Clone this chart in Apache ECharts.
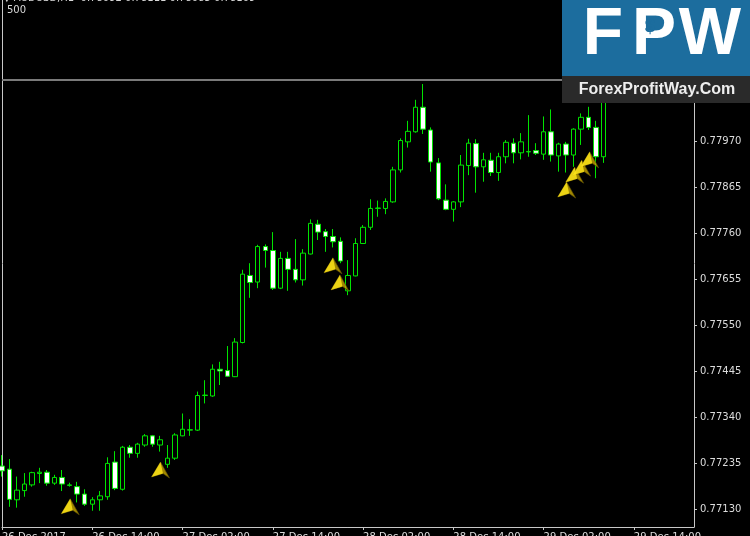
<!DOCTYPE html>
<html>
<head>
<meta charset="utf-8">
<title>AUDUSD H1</title>
<script src="https://cdn.jsdelivr.net/npm/echarts@6/dist/echarts.min.js"></script>
<style>
  html, body { margin: 0; padding: 0; background: #000; }
  #main { width: 750px; height: 536px; }
</style>
</head>
<body>
<div id="main"></div>
<script>
// AUDUSD H1 bars, oldest first
const opens = [
  0.77228, 0.77221, 0.77151, 0.77172, 0.77185, 0.77211, 0.77214, 0.77189, 0.77202, 0.77185,
  0.77181, 0.77164, 0.77141, 0.77151, 0.77158, 0.77237, 0.77175, 0.77271, 0.77257, 0.77276,
  0.77297, 0.77276, 0.77232, 0.77246, 0.77297, 0.77310, 0.77310, 0.77389, 0.77388, 0.77449,
  0.77446, 0.77432, 0.77510, 0.77663, 0.77648, 0.77729, 0.77720, 0.77634, 0.77702, 0.77677,
  0.77653, 0.77712, 0.77780, 0.77763, 0.77752, 0.77741, 0.77628, 0.77662, 0.77736, 0.77773,
  0.77816, 0.77816, 0.77831, 0.77904, 0.77968, 0.77991, 0.78047, 0.77995, 0.77920, 0.77835,
  0.77814, 0.77831, 0.77914, 0.77964, 0.77911, 0.77926, 0.77898, 0.77934, 0.77965, 0.77943,
  0.77945, 0.77948, 0.77940, 0.77991, 0.77936, 0.77963, 0.77938, 0.77997, 0.78024, 0.78001,
  0.77934, 0.78092
];
const highs = [
  0.77253, 0.77244, 0.77204, 0.77212, 0.77215, 0.77224, 0.77219, 0.77208, 0.77219, 0.77190,
  0.77192, 0.77175, 0.77157, 0.77171, 0.77248, 0.77262, 0.77274, 0.77276, 0.77281, 0.77301,
  0.77299, 0.77297, 0.77276, 0.77303, 0.77348, 0.77335, 0.77398, 0.77424, 0.77460, 0.77466,
  0.77502, 0.77520, 0.77676, 0.77691, 0.77733, 0.77734, 0.77762, 0.77717, 0.77717, 0.77746,
  0.77723, 0.77791, 0.77790, 0.77769, 0.77769, 0.77750, 0.77698, 0.77748, 0.77778, 0.77837,
  0.77834, 0.77839, 0.77911, 0.77976, 0.78016, 0.78064, 0.78100, 0.78001, 0.77931, 0.77871,
  0.77833, 0.77938, 0.77975, 0.77974, 0.77943, 0.77943, 0.77943, 0.77972, 0.77976, 0.77988,
  0.78029, 0.77965, 0.78026, 0.78042, 0.77966, 0.77968, 0.77999, 0.78033, 0.78048, 0.78016,
  0.78096, 0.78111
];
const lows = [
  0.77204, 0.77135, 0.77133, 0.77158, 0.77181, 0.77189, 0.77183, 0.77185, 0.77171, 0.77181,
  0.77145, 0.77137, 0.77126, 0.77126, 0.77151, 0.77173, 0.77172, 0.77247, 0.77247, 0.77272,
  0.77272, 0.77261, 0.77224, 0.77242, 0.77296, 0.77297, 0.77308, 0.77371, 0.77386, 0.77413,
  0.77432, 0.77431, 0.77508, 0.77612, 0.77634, 0.77681, 0.77630, 0.77632, 0.77628, 0.77647,
  0.77640, 0.77711, 0.77744, 0.77717, 0.77727, 0.77691, 0.77618, 0.77661, 0.77735, 0.77767,
  0.77797, 0.77803, 0.77829, 0.77898, 0.77955, 0.77989, 0.77986, 0.77900, 0.77835, 0.77812,
  0.77786, 0.77819, 0.77892, 0.77852, 0.77877, 0.77890, 0.77879, 0.77919, 0.77919, 0.77928,
  0.77934, 0.77938, 0.77927, 0.77923, 0.77900, 0.77898, 0.77911, 0.77961, 0.77995, 0.77885,
  0.77920, 0.78085
];
const closes = [
  0.77217, 0.77152, 0.77173, 0.77187, 0.77213, 0.77214, 0.77189, 0.77202, 0.77187, 0.77184,
  0.77164, 0.77141, 0.77151, 0.77160, 0.77234, 0.77177, 0.77271, 0.77257, 0.77278, 0.77297,
  0.77278, 0.77288, 0.77246, 0.77299, 0.77312, 0.77311, 0.77389, 0.77390, 0.77449, 0.77445,
  0.77433, 0.77511, 0.77666, 0.77647, 0.77729, 0.77720, 0.77634, 0.77702, 0.77677, 0.77653,
  0.77714, 0.77782, 0.77762, 0.77752, 0.77740, 0.77696, 0.77663, 0.77736, 0.77773, 0.77816,
  0.77817, 0.77832, 0.77904, 0.77971, 0.77992, 0.78047, 0.77997, 0.77922, 0.77838, 0.77814,
  0.77831, 0.77915, 0.77965, 0.77911, 0.77927, 0.77898, 0.77934, 0.77967, 0.77943, 0.77968,
  0.77946, 0.77942, 0.77991, 0.77938, 0.77963, 0.77938, 0.77997, 0.78024, 0.78001, 0.77934,
  0.78092, 0.78109
];

// buy arrows drawn on the chart: [bar position, price]
const arrowPoints = [
  [9.07, 0.77135], [21.07, 0.77219], [44.0, 0.77685], [44.93, 0.77646],
  [75.07, 0.77858], [76.13, 0.77892], [77.07, 0.77908], [78.13, 0.77927]
];

const xTickLabels = ['26 Dec 2017', '26 Dec 14:00', '27 Dec 02:00', '27 Dec 14:00',
  '28 Dec 02:00', '28 Dec 14:00', '29 Dec 02:00', '29 Dec 14:00'];
const barsPerLabel = 12;
const slotCount = 93; // bars + empty chart shift on the right

const priceTicks = [0.77130, 0.77235, 0.77340, 0.77445, 0.77550, 0.77655, 0.77760, 0.77865, 0.77970, 0.78075];
const priceMin = 0.770889;
const priceMax = 0.782918;

const symbolName = 'AUDUSD,H1';
const bidPrice = 0.78109;
const lastBar = [0.78092, 0.78111, 0.78085, 0.78109];

const green = '#00e400';
const axisText = '#dcdcdc';
const font = '"DejaVu Sans", sans-serif';
const logoFont = '"Liberation Sans", sans-serif';

const candles = opens.map((o, i) => [o, closes[i], lows[i], highs[i]]);
const slots = Array.from({ length: slotCount }, (_, i) => String(i));
const bidLine = [[0, bidPrice], [slotCount - 1, bidPrice]];

const arrowShape = 'path://M9,0 L0,15 L11.5,11.5 L18,16 Z';
const arrowLight = 'path://M9,0 L0,15 L11.5,11.5 Z M18,16 Z';

const chart = echarts.init(document.getElementById('main'), null, { renderer: 'canvas' });

chart.setOption({
  backgroundColor: '#000',
  animation: false,
  grid: { left: 2, right: 56, top: 0, bottom: 9, containLabel: false, outerBoundsMode: 'none' },
  xAxis: [
    {
      type: 'category',
      data: slots,
      boundaryGap: false,
      axisLine: { lineStyle: { color: '#c8c8c8', width: 1 } },
      axisTick: {
        length: 3,
        interval: (idx) => idx % barsPerLabel === 0,
        lineStyle: { color: '#c8c8c8' }
      },
      axisLabel: {
        interval: (idx) => idx % barsPerLabel === 0,
        formatter: (v, idx) => xTickLabels[idx / barsPerLabel] || '',
        align: 'left',
        margin: 5,
        color: axisText,
        fontFamily: font,
        fontSize: 10
      },
      splitLine: { show: false }
    },
    {
      type: 'value', min: 0, max: slotCount - 1, show: false,
      axisLine: { show: false }, axisTick: { show: false }, axisLabel: { show: false }, splitLine: { show: false }
    }
  ],
  yAxis: [
    {
      type: 'value',
      position: 'right',
      min: priceMin,
      max: priceMax,
      axisLine: { show: true, onZero: false, lineStyle: { color: '#c8c8c8', width: 1 } },
      axisTick: { show: true, length: 3, customValues: priceTicks, lineStyle: { color: '#c8c8c8' } },
      axisLabel: {
        customValues: priceTicks,
        formatter: (v) => v.toFixed(5),
        margin: 6,
        color: axisText,
        fontFamily: font,
        fontSize: 10
      },
      splitLine: { show: false }
    },
    {
      type: 'value',
      position: 'left',
      min: priceMin,
      max: priceMax,
      axisLine: { show: true, onZero: false, lineStyle: { color: '#c8c8c8', width: 1 } },
      axisTick: { show: false },
      axisLabel: { show: false },
      splitLine: { show: false }
    }
  ],
  series: [
    {
      // bid line at the current price
      type: 'line',
      xAxisIndex: 1,
      data: bidLine,
      symbol: 'none',
      silent: true,
      lineStyle: { color: '#7a7a7a', width: 2 },
      z: 1
    },
    {
      type: 'candlestick',
      data: candles,
      barWidth: 5,
      clip: true,
      itemStyle: {
        color: '#000',
        color0: '#fff',
        borderColor: green,
        borderColor0: green,
        borderWidth: 1
      },
      z: 2
    },
    {
      type: 'scatter',
      xAxisIndex: 1,
      data: arrowPoints,
      symbol: arrowShape,
      symbolSize: [18, 16],
      itemStyle: { color: '#c9a900', borderColor: '#5c4e00', borderWidth: 0.8 },
      z: 5
    },
    {
      type: 'scatter',
      xAxisIndex: 1,
      data: arrowPoints,
      symbol: arrowLight,
      symbolSize: [18, 16],
      itemStyle: { color: '#ffe619' },
      z: 6
    }
  ],
  graphic: [
    {
      type: 'text', left: 3, top: -7,
      style: {
        text: '\u25BC ' + symbolName + '  ' + lastBar.map(v => v.toFixed(5)).join(' '),
        fill: '#d8d8d8', font: '10px ' + font
      }
    },
    {
      type: 'text', left: 7, top: 5,
      style: { text: '500', fill: '#d8d8d8', font: '10px ' + font }
    },
    {
      type: 'group', right: 0, top: 0, zlevel: 5,
      children: [
        { type: 'rect', zlevel: 5, shape: { x: 0, y: 0, width: 188, height: 76 }, style: { fill: '#1c6d9e' } },
        { type: 'rect', zlevel: 5, shape: { x: 0, y: 76, width: 188, height: 27 }, style: { fill: '#2a2a2a' } },
        { type: 'text', zlevel: 5, x: 41, y: 36, style: { text: 'F', fill: '#fff', font: 'bold 66px ' + logoFont, align: 'center', verticalAlign: 'middle' } },
        { type: 'text', zlevel: 5, x: 92, y: 36, style: { text: 'P', fill: '#fff', font: 'bold 66px ' + logoFont, align: 'center', verticalAlign: 'middle' } },
        { type: 'text', zlevel: 5, x: 88, y: 27, style: { text: '$', fill: '#1c6d9e', font: 'bold 19px ' + logoFont, align: 'center', verticalAlign: 'middle' } },
        { type: 'text', zlevel: 5, x: 148, y: 36, style: { text: 'W', fill: '#fff', font: 'bold 66px ' + logoFont, align: 'center', verticalAlign: 'middle' } },
        { type: 'text', zlevel: 5, x: 95, y: 89.5, style: { text: 'ForexProfitWay.Com', fill: '#eeeeee', font: 'bold 16px ' + logoFont, align: 'center', verticalAlign: 'middle' } }
      ]
    }
  ]
});
</script>
</body>
</html>
